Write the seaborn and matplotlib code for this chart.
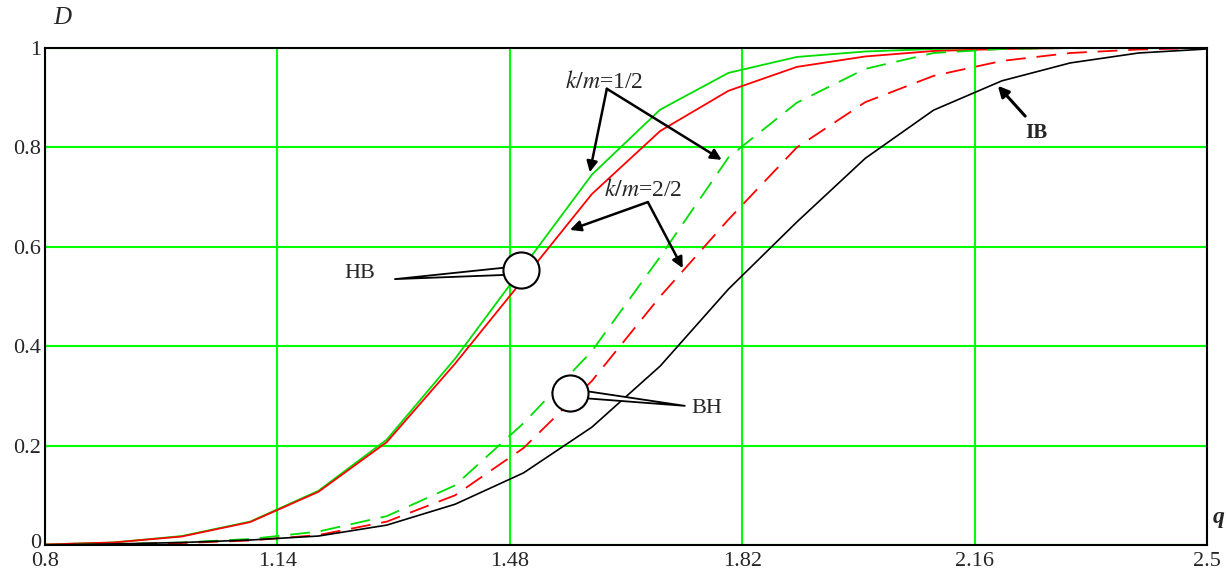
# Curvas D(q) para k/m=1/2 e k/m=2/2
import numpy as np
import seaborn as sns
import matplotlib.pyplot as plt
import matplotlib.transforms as mtransforms

q = [0.8, 0.9, 1.0, 1.1, 1.2, 1.3, 1.4, 1.5, 1.6, 1.7, 1.8, 1.9, 2.0, 2.1, 2.2, 2.3, 2.4, 2.5]
hb_green = [0.001, 0.005, 0.018, 0.047, 0.109, 0.212, 0.375, 0.56, 0.745, 0.876, 0.95, 0.982, 0.993, 0.998, 1.0, 1.0, 1.0, 1.0]
hb_red = [0.001, 0.005, 0.017, 0.046, 0.107, 0.207, 0.365, 0.535, 0.706, 0.833, 0.914, 0.962, 0.983, 0.994, 0.998, 1.0, 1.0, 1.0]
bh_green = [0.0, 0.002, 0.005, 0.012, 0.027, 0.058, 0.12, 0.245, 0.39, 0.58, 0.78, 0.89, 0.958, 0.99, 0.998, 1.0, 1.0, 1.0]
bh_red = [0.0, 0.001, 0.004, 0.009, 0.02, 0.047, 0.1, 0.195, 0.33, 0.5, 0.655, 0.8, 0.891, 0.944, 0.974, 0.99, 0.997, 1.0]
ib_black = [0.0, 0.002, 0.005, 0.01, 0.018, 0.04, 0.082, 0.145, 0.237, 0.36, 0.515, 0.65, 0.778, 0.875, 0.934, 0.97, 0.99, 0.998]

xticks = [0.8, 1.14, 1.48, 1.82, 2.16, 2.5]
xtick_labels = ["0.8", "1.14", "1.48", "1.82", "2.16", "2.5"]
yticks = [0, 0.2, 0.4, 0.6, 0.8, 1]
ytick_labels = ["0", "0.2", "0.4", "0.6", "0.8", "1"]

sns.set_style("white")
plt.rcParams['font.family'] = ['Liberation Serif', 'DejaVu Serif']
plt.rcParams['mathtext.fontset'] = 'stix'

fig = plt.figure(figsize=(12.26, 5.75), dpi=100)
ax = fig.add_axes([0.0367, 0.0522, 0.9478, 0.8643])

verde = '#00dd00'
dash = (0, (11, 6))
sns.lineplot(x=q, y=hb_green, color=verde, lw=1.3, ax=ax)
sns.lineplot(x=q, y=hb_red, color='red', lw=1.3, ax=ax)
sns.lineplot(x=q, y=bh_green, color=verde, lw=1.3, linestyle=dash, ax=ax)
sns.lineplot(x=q, y=bh_red, color='red', lw=1.3, linestyle=dash, ax=ax)
sns.lineplot(x=q, y=ib_black, color='black', lw=1.2, ax=ax)

ax.set_xlim(0.8, 2.5)
ax.set_ylim(0, 1)
ax.set_xticks(xticks)
ax.set_xticklabels(xtick_labels)
ax.set_yticks(yticks)
ax.set_yticklabels(ytick_labels)
ax.tick_params(length=0, labelsize=16)
ax.tick_params(axis='x', pad=5)
ax.tick_params(axis='y', pad=3)
# o "0" do eixo y um pouco acima para não encostar no "0.8"
zero = ax.get_yticklabels()[0]
zero.set_transform(zero.get_transform() + mtransforms.ScaledTranslation(0, 4 / 100, fig.dpi_scale_trans))
ax.grid(True, color='#00ff00', lw=1.5)
ax.set_axisbelow(True)
for s in ax.spines.values():
    s.set_color('black')
    s.set_linewidth(1.5)

ax.text(0.825, 1.06, "D", fontsize=18, style='italic', ha='center', va='center', clip_on=False)
ax.text(2.508, 0.055, "q", fontsize=17, style='italic', weight='bold', ha='left', va='center', clip_on=False)

# setas k/m
seta = dict(arrowstyle='-|>', color='black', lw=1.8, mutation_scale=16, shrinkA=0, shrinkB=0)
ax.text(1.618, 0.932, r"$k/m$=1/2", fontsize=17, ha='center', va='center')
ax.annotate("", xy=(1.597, 0.75), xytext=(1.622, 0.918), arrowprops=seta)
ax.annotate("", xy=(1.79, 0.775), xytext=(1.622, 0.918), arrowprops=seta)
ax.text(1.675, 0.714, r"$k/m$=2/2", fontsize=17, ha='center', va='center')
ax.annotate("", xy=(1.568, 0.634), xytext=(1.682, 0.69), arrowprops=seta)
ax.annotate("", xy=(1.733, 0.557), xytext=(1.682, 0.69), arrowprops=seta)

ax.text(2.251, 0.829, "IB", fontsize=15, weight='bold', ha='center', va='center')
ax.annotate("", xy=(2.194, 0.924), xytext=(2.234, 0.863), arrowprops=dict(seta, lw=2.2))

# balões HB / BH
cunha = dict(arrowstyle='wedge,tail_width=0.6', fc='white', ec='black', lw=1.3, shrinkA=0, shrinkB=0)
ax.annotate("", xy=(1.312, 0.535), xytext=(1.496, 0.553), arrowprops=cunha)
ax.plot([1.496], [0.553], 'o', ms=26, mfc='white', mec='black', mew=1.5, zorder=5)
ax.text(1.261, 0.547, "HB", fontsize=16, ha='center', va='center')

ax.annotate("", xy=(1.736, 0.28), xytext=(1.568, 0.306), arrowprops=cunha)
ax.plot([1.568], [0.306], 'o', ms=26, mfc='white', mec='black', mew=1.5, zorder=5)
ax.text(1.746, 0.274, "BH", fontsize=16, ha='left', va='center')

plt.savefig("out.png", dpi=100)
